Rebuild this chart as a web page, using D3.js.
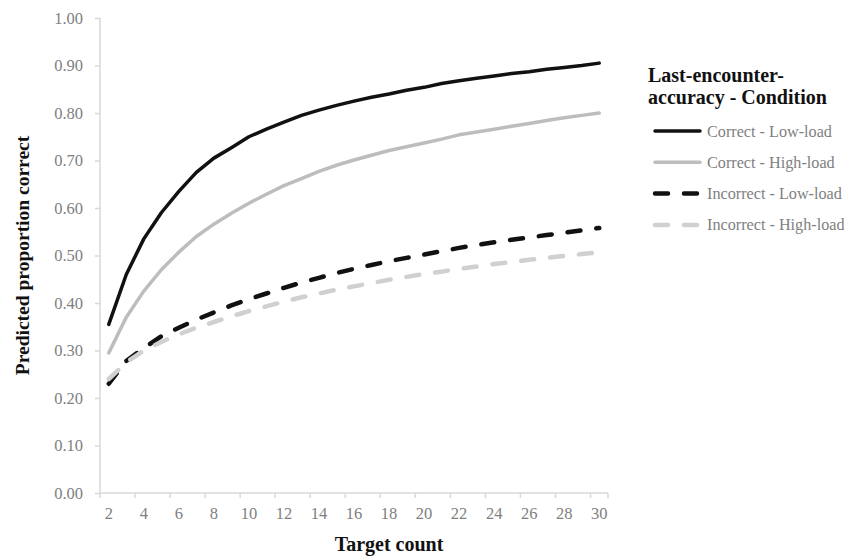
<!DOCTYPE html>
<html><head><meta charset="utf-8">
<script src="https://cdn.jsdelivr.net/npm/d3@7"></script>
<style>body{margin:0;background:#fff}svg{display:block}</style>
</head><body><svg id="c" width="844" height="557"></svg>
<script>
const targetCounts = d3.range(2, 31);
const seriesNames = ["Correct - Low-load", "Correct - High-load", "Incorrect - Low-load", "Incorrect - High-load"];
const correctLow = [0.355,0.46,0.535,0.59,0.635,0.675,0.705,0.727,0.75,0.766,0.781,0.795,0.806,0.816,0.825,0.833,0.84,0.848,0.854,0.862,0.868,0.873,0.878,0.883,0.887,0.892,0.896,0.9,0.905];
const correctHigh = [0.295,0.37,0.425,0.47,0.507,0.54,0.566,0.589,0.61,0.629,0.647,0.662,0.677,0.69,0.701,0.711,0.721,0.729,0.737,0.745,0.754,0.76,0.766,0.772,0.778,0.784,0.79,0.795,0.8];
const incorrectLow = [0.23,0.278,0.305,0.33,0.348,0.365,0.38,0.395,0.408,0.42,0.432,0.443,0.453,0.463,0.472,0.48,0.488,0.495,0.502,0.509,0.516,0.522,0.528,0.533,0.538,0.543,0.548,0.553,0.558];
const incorrectHigh = [0.24,0.275,0.3,0.318,0.334,0.348,0.36,0.372,0.383,0.393,0.403,0.412,0.42,0.428,0.435,0.442,0.449,0.455,0.461,0.466,0.472,0.477,0.482,0.486,0.491,0.495,0.499,0.503,0.507];
const yTicks = [0,0.1,0.2,0.3,0.4,0.5,0.6,0.7,0.8,0.9,1.0];
const xTickLabels = d3.range(2, 31, 2);

const styles = [
  {color:"#111", dash:null, w:3.5},
  {color:"#bdbdbd", dash:null, w:3.5},
  {color:"#111", dash:"13,16", w:4.5},
  {color:"#d0d0d0", dash:"13,16", w:4.5}
];
const seriesData = [correctLow, correctHigh, incorrectLow, incorrectHigh];

const svg = d3.select("#c");
const L = 100, R = 608, T = 18, B = 493;
const font = "'Liberation Serif','Times New Roman',serif";

const x = d3.scaleBand().domain(targetCounts).range([L, R]);
const y = d3.scaleLinear().domain([0, 1]).range([B, T]);

// y axis
const yAxis = svg.append("g").attr("transform", `translate(${L},0)`)
  .call(d3.axisLeft(y).tickValues(yTicks).tickFormat(d3.format(".2f")).tickSize(5).tickPadding(12));
yAxis.select(".domain").attr("stroke", "#d9d9d9").attr("stroke-width", 1.5).attr("d", `M0,${T}V${B}`);
yAxis.selectAll(".tick line").attr("stroke", "#d9d9d9").attr("stroke-width", 1.5);
yAxis.selectAll(".tick text").attr("fill", "#808080").style("font-family", font).style("font-size", "16.5px");

// x axis
const xAxis = svg.append("g").attr("transform", `translate(0,${B})`)
  .call(d3.axisBottom(x).tickValues(xTickLabels).tickSize(0).tickPadding(14));
xAxis.select(".domain").attr("stroke", "#d9d9d9").attr("stroke-width", 1.5).attr("d", `M${L},0H${R}`);
xAxis.selectAll(".tick text").attr("fill", "#808080").style("font-family", font).style("font-size", "16.5px");
// boundary tick marks every 2 categories
const boundaries = targetCounts.filter((d, i) => i % 2 === 0).map(d => x(d)).concat([R]);
xAxis.selectAll(".bt").data(boundaries).enter().append("line")
  .attr("x1", d => d).attr("x2", d => d).attr("y1", 0).attr("y2", 5)
  .attr("stroke", "#d9d9d9").attr("stroke-width", 1.5);

// lines
const line = d3.line().x((d, i) => x(targetCounts[i]) + x.bandwidth() / 2).y(d => y(d));
seriesData.forEach((s, k) => {
  svg.append("path").datum(s).attr("d", line).attr("fill", "none")
    .attr("stroke", styles[k].color).attr("stroke-width", styles[k].w)
    .attr("stroke-linecap", "round").attr("stroke-linejoin", "round")
    .attr("stroke-dasharray", styles[k].dash);
});

// axis titles
svg.append("text").attr("transform", `translate(29,${(T + B) / 2}) rotate(-90)`)
  .attr("text-anchor", "middle").style("font-family", font).style("font-size", "19.5px")
  .style("font-weight", "bold").attr("fill", "#111").text("Predicted proportion correct");
svg.append("text").attr("x", 389).attr("y", 551).attr("text-anchor", "middle")
  .style("font-family", font).style("font-size", "20px").style("font-weight", "bold")
  .attr("fill", "#111").text("Target count");

// legend
const lg = svg.append("g");
lg.append("text").attr("x", 648).attr("y", 82).style("font-family", font).style("font-size", "20px")
  .style("font-weight", "bold").attr("fill", "#111").text("Last-encounter-");
lg.append("text").attr("x", 648).attr("y", 104).style("font-family", font).style("font-size", "20px")
  .style("font-weight", "bold").attr("fill", "#111").text("accuracy - Condition");
seriesNames.forEach((n, k) => {
  const yy = 131 + k * 31.3;
  lg.append("line").attr("x1", 655).attr("x2", 700).attr("y1", yy).attr("y2", yy)
    .attr("stroke", styles[k].color).attr("stroke-width", styles[k].w)
    .attr("stroke-linecap", "round").attr("stroke-dasharray", styles[k].dash ? "13,16" : null);
  lg.append("text").attr("x", 707).attr("y", yy + 5.5).style("font-family", font)
    .style("font-size", "16.2px").attr("fill", "#7f7f7f").text(n);
});
</script></body></html>
